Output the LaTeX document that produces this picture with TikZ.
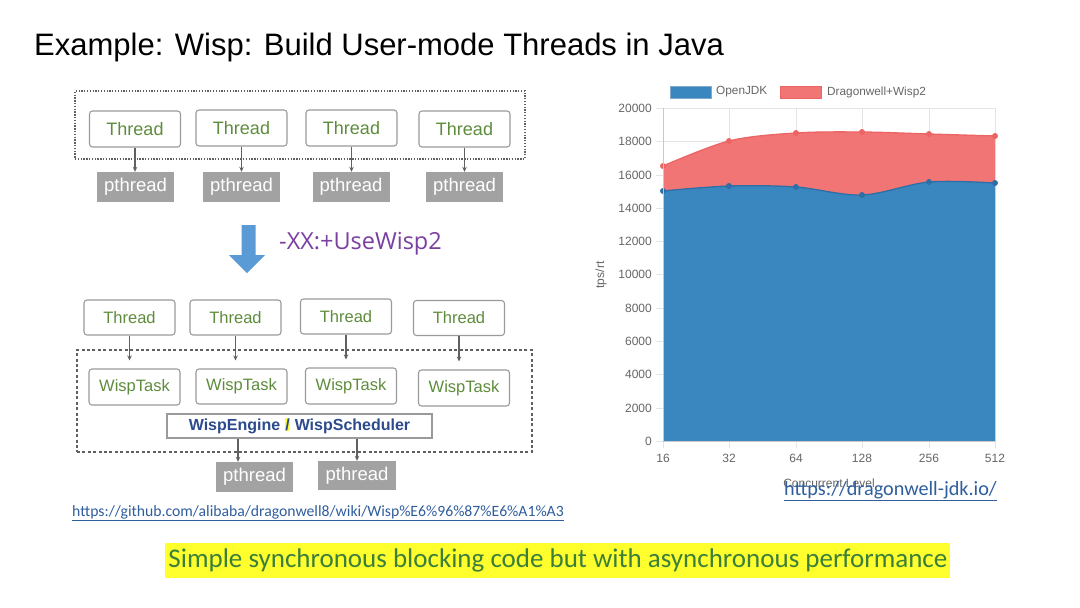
\documentclass[tikz,border=0pt]{standalone}
\usepackage{fontspec}
\setmainfont{Liberation Sans}
\newfontfamily\carl{Carlito}
\newfontfamily\osans{Open Sans}
\usetikzlibrary{arrows.meta}
\definecolor{tgreen}{HTML}{5E8C3C}
\definecolor{boxgray}{HTML}{9A9A9A}
\definecolor{pgray}{HTML}{A2A2A2}
\definecolor{agray}{HTML}{606060}
\definecolor{bigblue}{HTML}{5B9BD5}
\definecolor{purp}{HTML}{7A3FA0}
\definecolor{engblue}{HTML}{2C4A8C}
\definecolor{linkblue}{HTML}{2F5E9E}
\definecolor{hlyellow}{HTML}{FFFF2E}
\definecolor{msggreen}{HTML}{3B7F3B}
\definecolor{areablue}{HTML}{3A86BF}
\definecolor{lineblue}{HTML}{2E6FA6}
\definecolor{areared}{HTML}{F27575}
\definecolor{linered}{HTML}{EC6464}
\definecolor{gridc}{HTML}{E4E4E4}
\definecolor{axisc}{HTML}{C8C8C8}
\definecolor{lblc}{HTML}{666666}
\begin{document}
\begin{tikzpicture}[x=1pt,y=-1pt,
  tbox/.style={draw=boxgray, rounded corners=3pt, line width=1.1pt, fill=white, inner sep=0pt, text=tgreen},
  bigthread/.style={tbox, minimum width=91pt, minimum height=36pt, font=\fontsize{18}{20}\selectfont},
  smallthread/.style={tbox, minimum width=91pt, minimum height=35pt, font=\fontsize{16.5}{18}\selectfont},
  pth/.style={fill=pgray, text=white, inner sep=0pt, minimum width=77pt, minimum height=30pt, font=\fontsize{18.5}{20}\selectfont},
  arr/.style={draw=agray, line width=1.1pt, -{Stealth[length=5pt,width=4.5pt]}},
  grid/.style={draw=gridc, line width=0.8pt},
  axis/.style={draw=axisc, line width=1pt},
  ylab/.style={anchor=east, text=lblc, inner sep=0pt, font=\fontsize{12}{14}\selectfont},
  xlab/.style={anchor=center, text=lblc, inner sep=0pt, font=\fontsize{12}{14}\selectfont},
  pt blue/.style={fill=lineblue},
  pt red/.style={fill=linered}]
\useasboundingbox (0,0) rectangle (1080,608);
\fill[white] (0,0) rectangle (1080,608);

% title
\node[anchor=west, inner sep=0pt, font=\fontsize{31}{33}\selectfont] (title) at (34,47) {Example: Wisp: Build User-mode Threads in Java};

% top group
\node[draw=agray, line width=1.2pt, dash pattern=on 1.3pt off 1.5pt, minimum width=450pt, minimum height=68pt, inner sep=0pt] (grp1) at (300,125) {};
\node[bigthread] (t1) at (135,129) {Thread};
\node[bigthread] (t2) at (241.5,128) {Thread};
\node[bigthread] (t3) at (351.5,128) {Thread};
\node[bigthread] (t4) at (464.5,129) {Thread};
\node[pth] (p1) at (135.5,187) {pthread};
\node[pth] (p2) at (241.5,187) {pthread};
\node[pth] (p3) at (351,187) {pthread};
\node[pth] (p4) at (464.5,187) {pthread};
\foreach \i in {1,2,3,4} \draw[arr] (t\i.south) -- (t\i.south |- p\i.north);

% big arrow and flag
\fill[bigblue] (241.7,225) -- (255.7,225) -- (255.7,255) -- (265,255) -- (247,273) -- (229,255) -- (241.7,255) -- cycle;
\node[anchor=west, inner sep=0pt, text=purp, font=\osans\fontsize{23.5}{26}\selectfont] (flag) at (279,244) {-XX:+UseWisp2};

% bottom group
\node[draw=agray, line width=1.1pt, dash pattern=on 3pt off 2.4pt, minimum width=455pt, minimum height=102pt, inner sep=0pt] (grp2) at (304.5,401) {};
\node[smallthread] (b1) at (129.5,317.5) {Thread};
\node[smallthread] (b2) at (235.5,317.5) {Thread};
\node[smallthread] (b3) at (346,316.5) {Thread};
\node[smallthread] (b4) at (459,318) {Thread};
\node[smallthread, minimum height=36pt] (w1) at (134.5,387) {WispTask};
\node[smallthread, minimum height=35pt] (w2) at (241.5,386.5) {WispTask};
\node[smallthread, minimum height=36pt] (w3) at (351,386) {WispTask};
\node[smallthread, minimum height=36pt] (w4) at (464,388) {WispTask};
\foreach \i in {1,2,3,4} \draw[arr] (b\i.south) -- ([yshift=8pt]b\i.south |- w\i.north);
\node[draw=boxgray, line width=1.1pt, fill=white, minimum width=265pt, minimum height=24pt, inner sep=0pt, text=engblue, font=\bfseries\fontsize{16}{18}\selectfont] (eng) at (299.5,426)
  {WispEngine {\setlength\fboxsep{0.6pt}\colorbox{hlyellow}{/}} WispScheduler};
\node[pth, minimum width=77pt, minimum height=30pt] (p5) at (254.5,477) {pthread};
\node[pth, minimum width=78pt, minimum height=29pt] (p6) at (357,475.5) {pthread};
\draw[arr] ([xshift=-16.5pt]p5.north |- eng.south) -- ([xshift=-16.5pt]p5.north);
\draw[arr] (p6.north |- eng.south) -- (p6.north);

% links and message
\node[anchor=west, inner sep=0pt, text=linkblue, font=\carl\fontsize{15.7}{17}\selectfont] (gh) at (72,513) {\underline{https://github.com/alibaba/dragonwell8/wiki/Wisp\%E6\%96\%87\%E6\%A1\%A3}};
\fill[hlyellow] (165,543) rectangle (950,578);
\node[anchor=center, inner sep=0pt, text=msggreen, font=\carl\fontsize{27}{29}\selectfont] (msg) at (558,560) {Simple synchronous blocking code but with asynchronous performance};

% chart grid
\foreach \y/\v in {441/0,408/2000,374/4000,341/6000,308/8000,274/10000,241/12000,208/14000,175/16000,141/18000,108/20000} {
  \draw[grid] (656,\y) -- (995,\y);
  \node[ylab] at (652,\y) {\v};
}
\foreach \x/\v in {663/16,729/32,796/64,862/128,929/256,995/512} {
  \draw[grid] (\x,108) -- (\x,448);
  \node[xlab] at (\x,458) {\v};
}
% areas
\fill[areared] (663,441) -- plot[smooth, tension=0.55] coordinates {(663,166) (729,141) (796,133) (862,132) (929,134) (995,136)} -- (995,441) -- cycle;
\draw[linered, line width=1.3pt] plot[smooth, tension=0.55] coordinates {(663,166) (729,141) (796,133) (862,132) (929,134) (995,136)};
\fill[areablue] (663,441) -- plot[smooth, tension=0.55] coordinates {(663,191) (729,186) (796,187) (862,195) (929,182) (995,183)} -- (995,441) -- cycle;
\draw[lineblue, line width=1.3pt] plot[smooth, tension=0.55] coordinates {(663,191) (729,186) (796,187) (862,195) (929,182) (995,183)};
\foreach \x/\y in {663/166,729/141,796/133,862/132,929/134,995/136} \fill[pt red] (\x,\y) circle (3);
\foreach \x/\y in {663/191,729/186,796/187,862/195,929/182,995/183} \fill[pt blue] (\x,\y) circle (3);
\draw[axis] (663,108) -- (663,441) -- (995,441);
% axis titles
\node[rotate=90, text=lblc, inner sep=0pt, font=\fontsize{12}{14}\selectfont] (ytitle) at (601,275) {tps/rt};
\node[text=lblc, inner sep=0pt, font=\fontsize{12}{14}\selectfont] (xtitle) at (829,483) {Concurrent Level};
% legend
\node[fill=areablue, draw=lineblue!60!white, line width=0.8pt, minimum width=41pt, minimum height=12pt, inner sep=0pt] (lg1) at (690.5,92) {};
\node[anchor=west, text=lblc, inner sep=0pt, font=\fontsize{11.8}{13}\selectfont] (lg1t) at (716,92) {OpenJDK};
\node[fill=areared, draw=linered, line width=0.8pt, minimum width=41pt, minimum height=12pt, inner sep=0pt] (lg2) at (801,92) {};
\node[anchor=west, text=lblc, inner sep=0pt, font=\fontsize{11.8}{13}\selectfont] (lg2t) at (827,92) {Dragonwell+Wisp2};
% dragonwell link
\node[anchor=west, inner sep=0pt, text=linkblue, font=\carl\fontsize{20.2}{22}\selectfont] (dw) at (784,491) {\underline{https://dragonwell-jdk.io/}};
\end{tikzpicture}
\end{document}
